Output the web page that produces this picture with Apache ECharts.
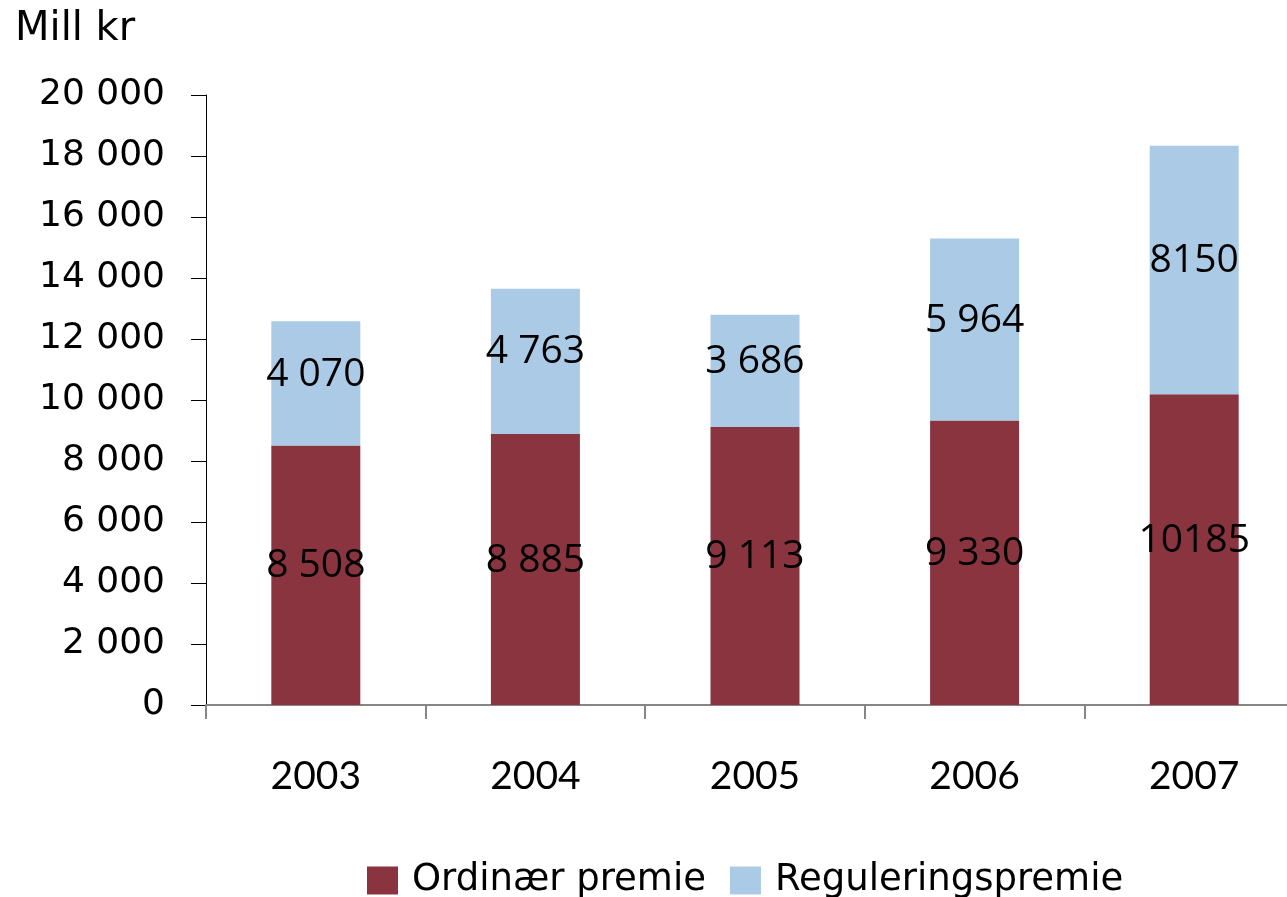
<!DOCTYPE html>
<html>
<head>
<meta charset="utf-8">
<script src="https://cdn.jsdelivr.net/npm/echarts@6/dist/echarts.min.js"></script>
<style>
    html, body { margin: 0; padding: 0; background: #fff; overflow: hidden; }
    /* the source plot runs a bit past the right edge, so the canvas is wider than the window */
    #premieChart { width: 1304px; height: 897px; }
</style>
</head>
<body>
<div id="premieChart"></div>
<script>
    // data
    var years = ['2003', '2004', '2005', '2006', '2007'];
    var ordinaerPremie = [8508, 8885, 9113, 9330, 10185];
    var reguleringsPremie = [4070, 4763, 3686, 5964, 8150];
    var yTicks = [0, 2000, 4000, 6000, 8000, 10000, 12000, 14000, 16000, 18000, 20000];
    var plainLabelYears = ['2007']; // in the source these are shown without the space

    function spaced(v) {
        return String(v).replace(/\B(?=(\d{3})+(?!\d))/g, ' ');
    }
    function barLabel(p) {
        return plainLabelYears.indexOf(p.name) >= 0 ? String(p.value) : spaced(p.value);
    }

    var labelStyle = {
        show: true,
        position: 'inside',
        offset: [0, -9],
        formatter: barLabel,
        color: '#000',
        fontFamily: 'Open Sans',
        fontSize: 39
    };

    var premieChart = echarts.init(document.getElementById('premieChart'));
    premieChart.setOption({
        animation: false,
        title: {
            text: 'Mill kr',
            left: 10,
            top: 5,
            textStyle: {
                fontFamily: 'DejaVu Sans',
                fontWeight: 'normal',
                fontSize: 40,
                color: '#000'
            }
        },
        legend: {
            left: 362,
            top: 857,
            icon: 'rect',
            itemWidth: 31,
            itemHeight: 28,
            itemGap: 24,
            textStyle: {
                fontFamily: 'DejaVu Sans',
                fontSize: 37,
                color: '#000',
                padding: [0, 0, 0, 9]
            },
            data: ['Ordinær premie', 'Reguleringspremie']
        },
        grid: {
            left: 206,
            right: 0,
            top: 95,
            bottom: 192
        },
        xAxis: {
            type: 'category',
            data: years,
            axisLine: { lineStyle: { color: '#868686', width: 2 } },
            axisTick: { show: true, length: 14, lineStyle: { color: '#868686', width: 2 } },
            axisLabel: {
                margin: 52,
                color: '#000',
                fontFamily: 'Lato',
                fontSize: 39
            }
        },
        yAxis: {
            type: 'value',
            min: yTicks[0],
            max: yTicks[yTicks.length - 1],
            interval: yTicks[1] - yTicks[0],
            splitLine: { show: false },
            axisLine: { show: true, lineStyle: { color: '#000', width: 1 } },
            axisTick: { show: true, length: 15, lineStyle: { color: '#000' } },
            axisLabel: {
                margin: 41,
                formatter: spaced,
                color: '#000',
                fontFamily: 'DejaVu Sans',
                fontSize: 36
            }
        },
        series: [{
            name: 'Ordinær premie',
            type: 'bar',
            stack: 'premie',
            barWidth: 89,
            data: ordinaerPremie,
            itemStyle: { color: '#8A343F' },
            label: labelStyle
        }, {
            name: 'Reguleringspremie',
            type: 'bar',
            stack: 'premie',
            barWidth: 89,
            data: reguleringsPremie,
            itemStyle: { color: '#AACAE6' },
            label: labelStyle
        }]
    });
</script>
</body>
</html>
